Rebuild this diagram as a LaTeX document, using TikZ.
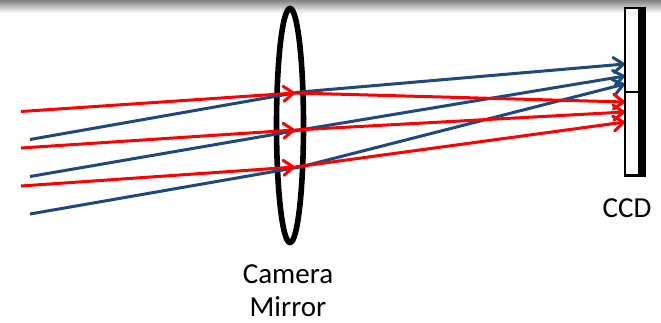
\documentclass[tikz,border=0pt]{standalone}
\usepackage{fontspec}
\setmainfont{Carlito}
\usetikzlibrary{arrows.meta,shapes.geometric}
\definecolor{rayblue}{RGB}{31,73,125}
\definecolor{rayred}{RGB}{255,0,0}
\tikzset{
  x=1pt,y=-1pt,
  redray/.style={draw=rayred,line width=3pt},
  blueray/.style={draw=rayblue,line width=3pt},
  tipped/.style={-{Straight Barb[length=10pt,width=15pt,line width=3pt,round]}},
  lens/.style={draw=black,line width=5.6pt,fill=none},
  label/.style={font=\fontsize{29}{34}\selectfont,inner sep=0pt,text=black,align=center}
}
\begin{document}
\begin{tikzpicture}
\useasboundingbox (0,0) rectangle (661,323);
\fill[white] (0,0) rectangle (661,323);
\shade[top color=black!50,bottom color=white] (0,0) rectangle (661,13);
% ray start points
\coordinate (r1) at (21,111.5);
\coordinate (r2) at (21,148);
\coordinate (r3) at (21,186);
\coordinate (b1) at (30,139.5);
\coordinate (b2) at (30,176.5);
\coordinate (b3) at (30,214);
% points at the mirror
\coordinate (mr1) at (295,93);
\coordinate (mr2) at (295,130);
\coordinate (mr3) at (295,167);
\coordinate (mb1) at (300,92);
\coordinate (mb2) at (300,130);
\coordinate (mb3) at (300,167);
% points at the detector
\coordinate (cb1) at (625,64);
\coordinate (cb2) at (625,76);
\coordinate (cb3) at (625,84);
\coordinate (cr1) at (625,102);
\coordinate (cr2) at (625,112);
\coordinate (cr3) at (625,122);
% mirror
\node[lens,shape=ellipse,minimum width=27pt,minimum height=234pt,inner sep=0pt] (mirror) at (290,125.5) {};
% blue rays
\draw[blueray] (b1) -- (mb1);
\draw[blueray] (b2) -- (mb2);
\draw[blueray] (b3) -- (mb3);
\draw[blueray,tipped] (mb1) -- (cb1);
\draw[blueray,tipped] (mb2) -- (cb2);
\draw[blueray,tipped] (mb3) -- (cb3);
% red rays
\draw[redray,tipped] (r1) -- (mr1);
\draw[redray,tipped] (r2) -- (mr2);
\draw[redray,tipped] (r3) -- (mr3);
\draw[redray,tipped] (mr1) -- (cr1);
\draw[redray,tipped] (mr2) -- (cr2);
\draw[redray,tipped] (mr3) -- (cr3);
% detector
\node[draw=black,line width=2.4pt,fill=white,minimum width=14pt,minimum height=84pt,inner sep=0pt,outer sep=0pt,anchor=north west] (ccdtop) at (625,8) {};
\node[draw=black,line width=2.4pt,fill=white,minimum width=14pt,minimum height=83.5pt,inner sep=0pt,outer sep=0pt,anchor=north west] (ccdbot) at (625,92) {};
\node[fill=black,minimum width=7.5pt,minimum height=170pt,inner sep=0pt,outer sep=0pt,anchor=north west] (ccdbar) at (638.5,6.8) {};
% labels
\node[label] (ccdlabel) at (627,208) {CCD};
\node[label] (cameralabel) at (288,274.5) {Camera};
\node[label] (mirrorlabel) at (288,306.5) {Mirror};
\end{tikzpicture}
\end{document}
